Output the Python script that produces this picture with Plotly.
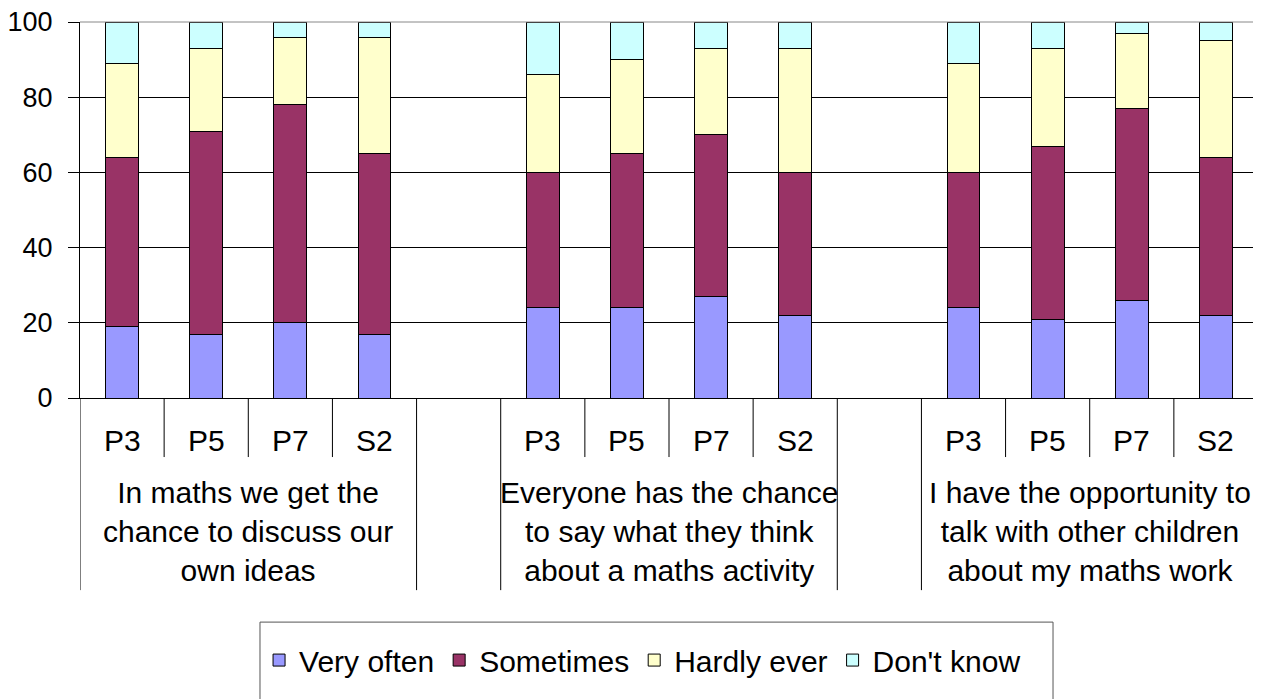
import plotly.graph_objects as go

# survey statements (one group of bars each) and year groups
statements = [
    "In maths we get the<br>chance to discuss our<br>own ideas",
    "Everyone has the chance<br>to say what they think<br>about a maths activity",
    "I have the opportunity to<br>talk with other children<br>about my maths work",
]
grades = ["P3", "P5", "P7", "S2"]

# percentages, 4 bars per statement (P3, P5, P7, S2)
very_often = [19, 17, 20, 17, 24, 24, 27, 22, 24, 21, 26, 22]
sometimes = [45, 54, 58, 48, 36, 41, 43, 38, 36, 46, 51, 42]
hardly_ever = [25, 22, 18, 31, 26, 25, 23, 33, 29, 26, 20, 31]
dont_know = [11, 7, 4, 4, 14, 10, 7, 7, 11, 7, 3, 5]

series = [
    ("Very often", very_often, "#9999FF"),
    ("Sometimes", sometimes, "#993366"),
    ("Hardly ever", hardly_ever, "#FFFFCC"),
    ("Don't know", dont_know, "#CCFFFF"),
]

FONT = "Liberation Sans, Arial, sans-serif"
FS = 30
step = len(grades) + 1  # one empty slot between statements
slots = [(g, k) for g in range(len(statements)) for k in range(len(grades))]
x_pos = [g * step + k for g, k in slots]
x_max = (len(statements) - 1) * step + len(grades) - 1

fig = go.Figure()
for name, vals, color in series:
    fig.add_trace(go.Bar(
        x=x_pos, y=vals, name=name, width=0.39,
        marker=dict(color=color, line=dict(color="black", width=1)),
    ))

shapes = []
annotations = []
# slot dividers below the axis: long ones frame each statement
for i in range(x_max + 2):
    b = i - 0.5
    r = int(b + 0.5) % step
    long_line = r == 0 or r == len(grades) or b == x_max + 0.5
    shapes.append(dict(type="line", xref="x", yref="paper", x0=b, x1=b,
                       y0=0, y1=-0.511 if long_line else -0.157,
                       line=dict(color="black", width=1)))
for x, (g, k) in zip(x_pos, slots):
    annotations.append(dict(x=x, y=-0.112, xref="x", yref="paper", text=grades[k],
                            xanchor="center", yanchor="middle", showarrow=False,
                            font=dict(size=FS, color="black", family=FONT)))
for g, txt in enumerate(statements):
    annotations.append(dict(x=g * step + (len(grades) - 1) / 2, y=-0.356, xref="x", yref="paper",
                            text=txt, xanchor="center", yanchor="middle",
                            showarrow=False, align="center",
                            font=dict(size=FS, color="black", family=FONT)))
# top/right plot border and legend box
shapes.append(dict(type="line", xref="paper", yref="paper", x0=1, x1=1, y0=0, y1=1,
                   line=dict(color="#999999", width=1)))
shapes.append(dict(type="line", xref="paper", yref="paper", x0=0, x1=1, y0=1, y1=1,
                   line=dict(color="#888888", width=1)))
shapes.append(dict(type="rect", xref="paper", yref="paper", x0=0.1528, x1=0.826,
                   y0=-0.83, y1=-0.596, line=dict(color="#555555", width=1)))

fig.update_layout(
    width=1253, height=691,
    margin=dict(l=72, r=3, t=14, b=301),
    paper_bgcolor="white", plot_bgcolor="white",
    barmode="stack",
    font=dict(family=FONT, size=FS, color="black"),
    xaxis=dict(range=[-0.5, x_max + 0.5], showticklabels=False, showgrid=False,
               zeroline=False, showline=True, linecolor="black", linewidth=1, ticks="",
               automargin=False),
    yaxis=dict(range=[0, 100], tickvals=[0, 20, 40, 60, 80, 100], showgrid=True,
               gridcolor="black", gridwidth=1, zeroline=False, showline=True,
               linecolor="black", ticks="outside", ticklen=11, tickcolor="black",
               ticklabelstandoff=10, ticklabeloverflow="allow",
               tickfont=dict(size=27), automargin=False),
    legend=dict(orientation="h", x=0.152, xanchor="left", y=-0.697, yanchor="middle",
                traceorder="normal", font=dict(size=FS), bgcolor="rgba(0,0,0,0)"),
    shapes=shapes,
    annotations=annotations,
)

fig.write_html("out.html")
